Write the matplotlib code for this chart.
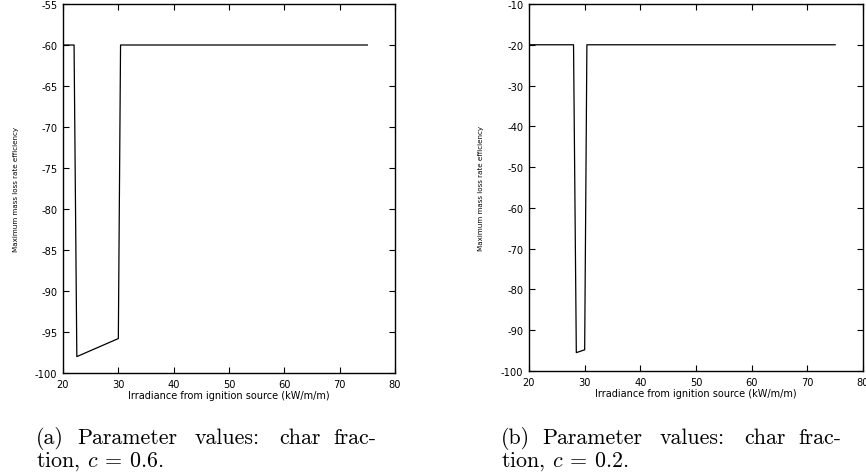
import numpy as np
import matplotlib.pyplot as plt

plt.rcParams['axes.unicode_minus'] = False
plt.rcParams['mathtext.fontset'] = 'cm'

# data
x_a = [20, 22.0, 22.5, 30.0, 30.4, 75]
y_a = [-60, -60, -98.0, -95.8, -60, -60]
x_b = [20, 28.0, 28.5, 30.0, 30.4, 75]
y_b = [-20, -20, -95.5, -94.8, -20, -20]

xticks = [20, 30, 40, 50, 60, 70, 80]
yticks_a = [-100, -95, -90, -85, -80, -75, -70, -65, -60, -55]
yticks_b = [-100, -90, -80, -70, -60, -50, -40, -30, -20, -10]

xlab = "Irradiance from ignition source (kW/m/m)"
ylab = "Maximum mass loss rate efficiency"

fig = plt.figure(figsize=(8.66, 4.77), dpi=100)


def panel(rect, x, y, yticks, ylab_x):
    ax = fig.add_axes(rect)
    ax.plot(x, y, color='black', lw=0.9)
    ax.set_xlim(20, 80)
    ax.set_ylim(yticks[0], yticks[-1])
    ax.set_xticks(xticks)
    ax.set_yticks(yticks)
    ax.tick_params(direction='in', top=True, right=True, length=4, width=0.8,
                   labelsize=7.1, pad=4)
    for s in ax.spines.values():
        s.set_linewidth(1.0)
    ax.set_xlabel(xlab, fontsize=7, labelpad=1)
    fig.text(ylab_x, rect[1] + rect[3] / 2, ylab, rotation=90, fontsize=5.1,
             family='Liberation Sans Narrow', ha='center', va='center')
    return ax


panel([63 / 866, 1 - 374 / 477, 332 / 866, 369 / 477], x_a, y_a, yticks_a, 16 / 866)
panel([529 / 866, 1 - 372 / 477, 334 / 866, 367 / 477], x_b, y_b, yticks_b, 481 / 866)

# caption words, placed to mimic the justified LaTeX line
cap_kw = dict(fontsize=15.8, family='cmr10', va='baseline')
words = ["Parameter", "values:", "char", "frac-"]
word_x = [77, 195, 279, 333]


def caption(dx, tag, cval):
    fig.text((36 + dx) / 866, 1 - 444 / 477, tag, ha='left', **cap_kw)
    for w, wx in zip(words, word_x):
        fig.text((wx + dx) / 866, 1 - 444 / 477, w, ha='left', **cap_kw)
    fig.text((36 + dx) / 866, 1 - 467 / 477, "tion, $c\\:=\\:%s$." % cval,
             ha='left', **cap_kw)


caption(0, "(a)", "0.6")
caption(465, "(b)", "0.2")

fig.savefig("out.png", dpi=100)
